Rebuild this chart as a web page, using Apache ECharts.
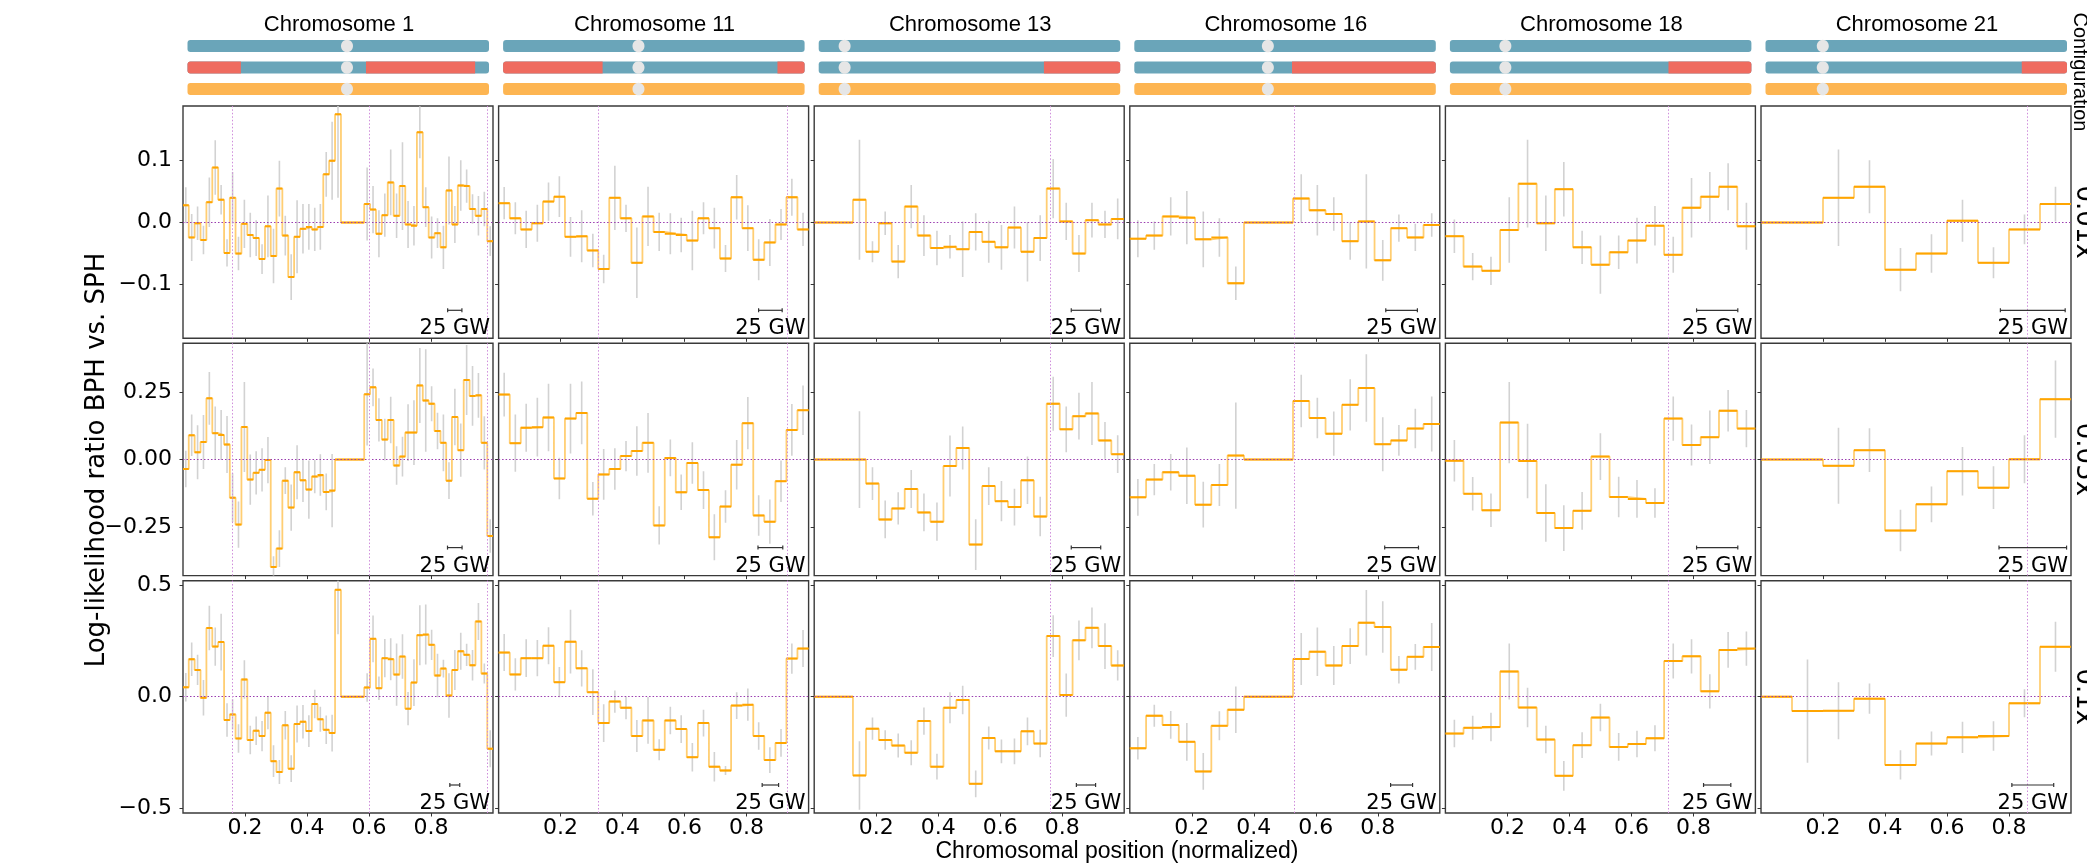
<!DOCTYPE html>
<html><head><meta charset="utf-8">
<script src="https://cdn.jsdelivr.net/npm/echarts@6/dist/echarts.min.js"></script>
<style>html,body{margin:0;padding:0;background:#fff;overflow:hidden}#c{width:2087px;height:866px}</style>
</head><body><div id="c"></div><script>
// ---------------- DATA ----------------
const chromosomes = ['Chromosome 1','Chromosome 11','Chromosome 13','Chromosome 16','Chromosome 18','Chromosome 21'];
const coverages = ['0.01x','0.05x','0.1x'];
const xTicks = [0.2,0.4,0.6,0.8];
const yTickValues = [[-0.1,0,0.1],[-0.25,0,0.25],[-0.5,0,0.5]];
const yTickLabels = [['\u22120.1','0.0','0.1'],['\u22120.25','0.00','0.25'],['\u22120.5','0.0','0.5']];
const yRanges = [[-0.187,0.1885],[-0.43,0.431],[-0.523,0.521]];

// ideogram configuration (fractions of chromosome length)
const centromeres = [0.529,0.449,0.086,0.443,0.184,0.19];
const redSegments = [[[0,0.177],[0.592,0.954]],[[0,0.33],[0.91,1]],[[0.747,1]],[[0.523,1]],[[0.725,1]],[[0.85,1]]];
// breakpoints (dotted vertical lines)
const breakpoints = [[0.159,0.601,0.976],[0.324,0.932],[0.756],[0.526],[0.72],[0.865]];
// 25 GW scale bar length, per chromosome, per coverage
const scaleBars = [[0.046,0.047,0.032],[0.076,0.080,0.053],[0.095,0.095,0.062],[0.102,0.109,0.071],[0.133,0.133,0.088],[0.209,0.218,0.135]];

// bin centres (normalized position)
const pos_chr1 = [0.009,0.028,0.047,0.066,0.085,0.104,0.123,0.142,0.160,0.179,0.198,0.217,0.236,0.255,0.274,0.292,0.311,0.330,0.349,0.368,0.387,0.406,0.425,0.443,0.462,0.481,0.500,0.519,0.538,0.557,0.575,0.594,0.613,0.632,0.651,0.670,0.689,0.708,0.726,0.745,0.764,0.783,0.802,0.821,0.840,0.858,0.877,0.896,0.915,0.934,0.953,0.972,0.991];
const pos_chr11 = [0.018,0.054,0.089,0.125,0.161,0.196,0.232,0.268,0.304,0.339,0.375,0.411,0.446,0.482,0.518,0.554,0.589,0.625,0.661,0.696,0.732,0.768,0.804,0.839,0.875,0.911,0.946,0.982];
const pos_chr13 = [0.021,0.063,0.104,0.146,0.188,0.229,0.271,0.313,0.354,0.396,0.438,0.479,0.521,0.563,0.604,0.646,0.688,0.729,0.771,0.813,0.854,0.896,0.938,0.979];
const pos_chr16 = [0.026,0.079,0.132,0.184,0.237,0.289,0.342,0.395,0.447,0.500,0.553,0.605,0.658,0.711,0.763,0.816,0.868,0.921,0.974];
const pos_chr18 = [0.029,0.088,0.147,0.206,0.265,0.324,0.382,0.441,0.500,0.559,0.618,0.676,0.735,0.794,0.853,0.912,0.971];
const pos_chr21 = [0.05,0.15,0.25,0.35,0.45,0.55,0.65,0.75,0.85,0.95];

// log-likelihood ratios and error half-widths
const llr_chr1_001 = [0.028,-0.024,-0.001,-0.028,0.033,0.089,0.037,-0.049,0.040,-0.050,-0.002,-0.020,-0.025,-0.059,-0.006,-0.054,0.055,-0.021,-0.088,-0.023,-0.010,-0.007,-0.011,-0.007,0.078,0.100,0.175,0,0,0,0,0.030,0.021,-0.018,0.012,0.065,0.011,0.059,-0.003,-0.005,0.146,0.025,-0.024,-0.017,-0.040,0.052,-0.003,0.060,0.059,0.022,0.011,0.022,-0.030];
const err_chr1_001 = [0.029,0.038,0.027,0.023,0.040,0.044,0.024,0.022,0.042,0.027,0.039,0.036,0.029,0.024,0.050,0.044,0.045,0.032,0.037,0.059,0.040,0.037,0.035,0.037,0.036,0.063,0.135,null,null,null,null,0.059,0.038,0.038,0.035,0.053,0.036,0.071,0.038,0.032,0.042,0.032,0.034,0.024,0.035,0.055,0.030,0.041,0.027,0.024,0.032,0.028,0.024];
const llr_chr1_005 = [-0.035,0.090,0.027,0.065,0.227,0.098,0.091,0.056,-0.141,-0.241,0.121,-0.074,-0.049,-0.038,-0.002,-0.398,-0.330,-0.078,-0.178,-0.047,-0.077,-0.111,-0.063,-0.057,-0.120,-0.115,0,0,0,0,0,0.242,0.268,0.147,0.074,0.147,-0.022,0.011,0.100,0.100,0.275,0.219,0.207,0.106,0.062,-0.078,0.158,0.035,0.295,0.236,0.238,0.062,-0.283];
const err_chr1_005 = [0.068,0.077,0.1,0.1,0.098,0.099,0.093,0.106,0.09,0.086,0.167,0.093,0.08,0.08,0.086,0.04,0.068,0.05,0.086,0.1,0.08,0.108,0.062,0.077,0.068,0.136,null,null,null,null,null,0.19,0.07,0.08,0.077,0.086,0.071,0.074,0.105,0.12,0.139,0.19,0.065,0.068,0.105,0.068,0.105,0.099,0.13,0.111,0.083,0.099,0.062];
const llr_chr1_01 = [0.042,0.168,0.120,-0.005,0.308,0.225,0.245,-0.105,-0.080,-0.188,0.077,-0.195,-0.153,-0.177,-0.072,-0.290,-0.339,-0.129,-0.324,-0.123,-0.113,-0.155,-0.033,-0.102,-0.149,-0.164,0.480,0,0,0,0,0.041,0.260,0.038,0.173,0.168,0.099,0.180,-0.054,0.063,0.276,0.279,0.233,0.095,0.126,0.005,0.120,0.204,0.188,0.141,0.338,0.104,-0.234];
const err_chr1_01 = [0.064,0.075,0.068,0.08,0.1,0.086,0.128,0.075,0.068,0.064,0.086,0.064,0.064,0.068,0.075,0.071,0.054,0.064,0.06,0.083,0.075,0.071,0.064,0.056,0.064,0.083,0.2,null,null,null,null,0.064,0.105,0.053,0.086,0.094,0.14,0.1,0.075,0.105,0.135,0.135,0.068,0.098,0.04,0.1,0.09,0.083,0.05,0.068,0.083,0.045,0.083];

const llr_chr11_001 = [0.0315,0.007,-0.011,-0.001,0.034,0.042,-0.023,-0.022,-0.045,-0.075,0.040,0.007,-0.065,0.010,-0.015,-0.018,-0.020,-0.029,0.007,-0.009,-0.058,0.041,-0.009,-0.060,-0.032,-0.003,0.041,-0.011];
const err_chr11_001 = [0.026,0.026,0.030,0.030,0.031,0.033,0.032,0.042,0.027,0.023,0.052,0.022,0.057,0.048,0.031,0.033,0.028,0.048,0.026,0.033,0.022,0.036,0.037,0.033,0.038,0.025,0.030,0.027];
const llr_chr11_005 = [0.241,0.061,0.118,0.120,0.156,-0.070,0.152,0.173,-0.145,-0.055,-0.035,0.013,0.032,0.062,-0.244,0.006,-0.121,-0.013,-0.113,-0.288,-0.174,-0.019,0.135,-0.207,-0.230,-0.080,0.110,0.183];
const err_chr11_005 = [0.081,0.106,0.089,0.109,0.125,0.077,0.129,0.116,0.062,0.094,0.077,0.056,0.092,0.111,0.071,0.068,0.066,0.077,0.07,0.085,0.06,0.092,0.097,0.075,0.082,0.077,0.096,0.092];
const llr_chr11_01 = [0.198,0.100,0.173,0.173,0.229,0.065,0.247,0.127,0.020,-0.119,-0.022,-0.050,-0.177,-0.107,-0.239,-0.107,-0.146,-0.272,-0.119,-0.315,-0.332,-0.040,-0.036,-0.177,-0.285,-0.208,0.171,0.216];
const err_chr11_01 = [0.083,0.072,0.085,0.081,0.083,0.068,0.143,0.081,0.103,0.085,0.05,0.052,0.072,0.105,0.047,0.062,0.062,0.064,0.06,0.066,0.02,0.06,0.072,0.062,0.058,0.062,0.068,0.083];

const llr_chr13_001 = [0,0,0,0.037,-0.047,-0.001,-0.063,0.026,-0.021,-0.041,-0.039,-0.043,-0.015,-0.031,-0.040,-0.008,-0.047,-0.025,0.055,0.002,-0.050,0.004,-0.003,0.006];
const err_chr13_001 = [null,null,null,0.097,0.017,0.019,0.027,0.035,0.033,0.028,0.019,0.045,0.03,0.034,0.036,0.034,0.048,0.037,0.048,0.03,0.03,0.028,0.022,0.033];
const llr_chr13_005 = [0,0,0,0.0,-0.089,-0.222,-0.181,-0.109,-0.196,-0.230,-0.024,0.043,-0.315,-0.098,-0.154,-0.176,-0.077,-0.211,0.207,0.112,0.161,0.171,0.071,0.020];
const err_chr13_005 = [null,null,null,0.179,0.061,0.07,0.06,0.07,0.07,0.071,0.113,0.08,0.094,0.07,0.075,0.068,0.088,0.073,0.1,0.085,0.087,0.117,0.068,0.07];
const llr_chr13_01 = [0,0,0,-0.354,-0.144,-0.195,-0.220,-0.252,-0.110,-0.315,-0.050,-0.015,-0.392,-0.186,-0.246,-0.246,-0.156,-0.211,0.272,0.007,0.253,0.309,0.227,0.140];
const err_chr13_01 = [null,null,null,0.154,0.05,0.044,0.054,0.056,0.061,0.058,0.07,0.064,0.06,0.052,0.053,0.058,0.062,0.062,0.094,0.097,0.089,0.092,0.103,0.068];

const llr_chr16_001 = [-0.026,-0.021,0.010,0.008,-0.027,-0.024,-0.098,0,0,0,0.039,0.020,0.014,-0.030,0.002,-0.061,-0.009,-0.024,-0.004];
const err_chr16_001 = [0.03,0.023,0.031,0.043,0.045,0.031,0.027,null,null,null,0.039,0.041,0.027,0.03,0.076,0.033,0.022,0.022,0.019];
const llr_chr16_005 = [-0.140,-0.074,-0.047,-0.060,-0.167,-0.094,0.015,0,0,0,0.217,0.154,0.096,0.203,0.265,0.057,0.071,0.115,0.132];
const err_chr16_005 = [0.068,0.058,0.068,0.105,0.085,0.078,0.197,null,null,null,0.097,0.075,0.082,0.095,0.125,0.1,0.057,0.073,0.102];
const llr_chr16_01 = [-0.232,-0.086,-0.127,-0.203,-0.336,-0.131,-0.059,0,0,0,0.169,0.202,0.140,0.227,0.332,0.313,0.121,0.179,0.223];
const err_chr16_01 = [0.05,0.049,0.062,0.085,0.083,0.065,0.105,null,null,null,0.117,0.109,0.088,0.08,0.147,0.116,0.062,0.058,0.108];

const llr_chr18_001 = [-0.022,-0.071,-0.078,-0.012,0.063,-0.001,0.054,-0.040,-0.068,-0.048,-0.029,-0.005,-0.052,0.024,0.042,0.058,-0.006];
const err_chr18_001 = [0.027,0.022,0.023,0.053,0.071,0.045,0.044,0.027,0.047,0.027,0.037,0.032,0.029,0.048,0.04,0.038,0.038];
const llr_chr18_005 = [-0.004,-0.127,-0.188,0.137,-0.005,-0.198,-0.254,-0.190,0.011,-0.139,-0.146,-0.161,0.152,0.054,0.083,0.181,0.115];
const err_chr18_005 = [0.077,0.062,0.062,0.151,0.138,0.107,0.085,0.07,0.087,0.075,0.07,0.055,0.082,0.076,0.099,0.077,0.069];
const llr_chr18_01 = [-0.166,-0.140,-0.137,0.113,-0.049,-0.193,-0.356,-0.218,-0.094,-0.226,-0.213,-0.187,0.160,0.181,0.024,0.210,0.216];
const err_chr18_01 = [0.062,0.054,0.064,0.126,0.089,0.062,0.067,0.058,0.062,0.062,0.06,0.058,0.079,0.077,0.077,0.08,0.077];

const llr_chr21_001 = [0,0,0.040,0.058,-0.076,-0.050,0.003,-0.065,-0.011,0.030];
const err_chr21_001 = [null,null,0.078,0.043,0.035,0.031,0.034,0.025,0.024,0.028];
const llr_chr21_005 = [0,0,-0.023,0.035,-0.263,-0.166,-0.043,-0.104,0.001,0.224];
const err_chr21_005 = [null,null,0.141,0.081,0.077,0.066,0.09,0.079,0.089,0.143];
const llr_chr21_01 = [0,-0.065,-0.063,-0.009,-0.307,-0.211,-0.183,-0.177,-0.030,0.224];
const err_chr21_01 = [null,0.232,0.128,0.068,0.066,0.054,0.07,0.066,0.063,0.112];

// ---------------- ASSEMBLY ----------------
const positions = [pos_chr1,pos_chr11,pos_chr13,pos_chr16,pos_chr18,pos_chr21];
const llr = [
  [llr_chr1_001,llr_chr11_001,llr_chr13_001,llr_chr16_001,llr_chr18_001,llr_chr21_001],
  [llr_chr1_005,llr_chr11_005,llr_chr13_005,llr_chr16_005,llr_chr18_005,llr_chr21_005],
  [llr_chr1_01,llr_chr11_01,llr_chr13_01,llr_chr16_01,llr_chr18_01,llr_chr21_01]];
const errs = [
  [err_chr1_001,err_chr11_001,err_chr13_001,err_chr16_001,err_chr18_001,err_chr21_001],
  [err_chr1_005,err_chr11_005,err_chr13_005,err_chr16_005,err_chr18_005,err_chr21_005],
  [err_chr1_01,err_chr11_01,err_chr13_01,err_chr16_01,err_chr18_01,err_chr21_01]];

const GRID_LEFT0 = 183, GRID_W = 310, GRID_GAP = 5.6;
const ROW_TOPS = [106, 343.3, 580.7], GRID_H = 232.3;
const colLeft = c => GRID_LEFT0 + c * (GRID_W + GRID_GAP);
const BLUE = '#6aa5b9', RED = '#ef6b5f', ORANGE = '#fdb552', CENT = '#e6e6e6';
const TICK_FONT = 'DejaVu Sans';
const GW_FONT = '21px "DejaVu Sans"';

const mctx = document.createElement('canvas').getContext('2d');
function textWidth(t, font){ mctx.font = font; return mctx.measureText(t).width; }

function edgesOf(c){
  const n = c.length, e = [Math.max(0, c[0] - (c[1]-c[0])/2)];
  for (let i = 1; i < n; i++) e.push((c[i-1] + c[i]) / 2);
  e.push(Math.min(1, c[n-1] + (c[n-1]-c[n-2])/2));
  return e;
}

const grids = [], xAxes = [], yAxes = [], series = [];

function renderErr(params, api){
  const x = api.value(0);
  const p1 = api.coord([x, api.value(1)]), p2 = api.coord([x, api.value(2)]);
  return {type:'line', shape:{x1:p1[0], y1:p1[1], x2:p2[0], y2:p2[1]}, style:{stroke:'#d2d2d2', lineWidth:1.6}};
}
function renderSeg(params, api){
  const a = api.coord([api.value(0), api.value(2)]), b = api.coord([api.value(1), api.value(2)]);
  return {type:'line', shape:{x1:a[0], y1:a[1], x2:b[0], y2:b[1]}, style:{stroke:'#ffa500', lineWidth:2}};
}
function renderScale(params, api){
  const cs = params.coordSys;
  const right = cs.x + cs.width - 3;
  const tw = textWidth('25 GW', GW_FONT);
  const cx = right - tw / 2;
  const len = api.size([api.value(0), 0])[0];
  const yb = cs.y + cs.height - 28;
  const st = {stroke:'#333', lineWidth:1.2};
  return {type:'group', children:[
    {type:'line', shape:{x1:cx-len/2, y1:yb, x2:cx+len/2, y2:yb}, style:st},
    {type:'line', shape:{x1:cx-len/2, y1:yb-2, x2:cx-len/2, y2:yb+2}, style:st},
    {type:'line', shape:{x1:cx+len/2, y1:yb-2, x2:cx+len/2, y2:yb+2}, style:st},
    {type:'text', x:right, y:cs.y + cs.height + 1, style:{text:'25 GW', font:GW_FONT, fill:'#000', align:'right', verticalAlign:'bottom'}}
  ]};
}

for (let r = 0; r < 3; r++) {
  for (let c = 0; c < 6; c++) {
    const gi = grids.length;
    grids.push({left: colLeft(c), top: ROW_TOPS[r], width: GRID_W, height: GRID_H,
      show: true, borderColor: '#3a3a3a', borderWidth: 1.4, backgroundColor: 'transparent',
      containLabel: false, outerBoundsMode: 'none'});
    xAxes.push({gridIndex: gi, type: 'value', min: 0, max: 1,
      axisLine: {show: false, onZero: false}, splitLine: {show: false},
      axisTick: {show: true, customValues: xTicks, length: 3.5, lineStyle: {color: '#333', width: 1}},
      axisLabel: {show: r === 2, customValues: xTicks, formatter: v => v.toFixed(1),
        fontFamily: TICK_FONT, fontSize: 22, color: '#000', margin: 4}});
    const yv = yTickValues[r], yl = yTickLabels[r];
    yAxes.push({gridIndex: gi, type: 'value', min: yRanges[r][0], max: yRanges[r][1],
      axisLine: {show: false, onZero: false}, splitLine: {show: false},
      axisTick: {show: true, customValues: yv, length: 3.5, lineStyle: {color: '#333', width: 1}},
      axisLabel: {show: c === 0, customValues: yv,
        formatter: v => { const i = yv.findIndex(t => Math.abs(t - v) < 1e-9); return i >= 0 ? yl[i] : ''; },
        fontFamily: TICK_FONT, fontSize: 22, color: '#000', margin: 11}});

    const pos = positions[c], vals = llr[r][c], er = errs[r][c];
    const edges = edgesOf(pos);

    // reference lines
    series.push({type: 'line', xAxisIndex: gi, yAxisIndex: gi, data: [[0, 0]], showSymbol: false,
      lineStyle: {opacity: 0}, z: 1, silent: true,
      markLine: {silent: true, symbol: 'none', animation: false, label: {show: false},
        emphasis: {disabled: true},
        data: [{yAxis: 0, lineStyle: {color: '#9a3cb0', type: [1.5, 2], width: 1.1}}]
          .concat(breakpoints[c].map(b => ({xAxis: b, lineStyle: {color: '#cf8ddb', type: [1.5, 2], width: 1}})))}});
    // error bars
    const errData = [];
    pos.forEach((x, i) => { if (er[i] != null) errData.push([x, vals[i] - er[i], vals[i] + er[i]]); });
    series.push({type: 'custom', xAxisIndex: gi, yAxisIndex: gi, data: errData, renderItem: renderErr,
      encode: {x: 0, y: [1, 2]}, clip: true, z: 2, silent: true});
    // step line (vertical connectors lighter)
    const stepData = vals.map((v, i) => [edges[i], v]);
    stepData.push([edges[vals.length], vals[vals.length - 1]]);
    series.push({type: 'line', xAxisIndex: gi, yAxisIndex: gi, data: stepData, step: 'end',
      showSymbol: false, lineStyle: {color: 'rgba(255,165,0,0.55)', width: 1.8}, z: 3, silent: true, clip: true});
    // horizontal bin segments
    series.push({type: 'custom', xAxisIndex: gi, yAxisIndex: gi,
      data: vals.map((v, i) => [edges[i], edges[i + 1], v]), renderItem: renderSeg,
      encode: {x: [0, 1], y: 2}, clip: true, z: 4, silent: true});
    // scale bar
    series.push({type: 'custom', xAxisIndex: gi, yAxisIndex: gi, data: [[scaleBars[c][r], 0]],
      renderItem: renderScale, encode: {x: 0, y: 1}, clip: false, z: 5, silent: true});
  }
}

// ideograms
function ideoRender(ci){
  return function(params, api){
    const row = api.value(1);
    const a = api.coord([0, row]), b = api.coord([1, row]);
    const h = 12, y = a[1] - h / 2;
    const children = [{type: 'rect', shape: {x: a[0], y: y, width: b[0] - a[0], height: h, r: 3},
      style: {fill: row === 2 ? ORANGE : BLUE}}];
    if (row === 1) {
      redSegments[ci].forEach(([s, e]) => {
        const xs = api.coord([s, row])[0], xe = api.coord([e, row])[0];
        const rr = [s === 0 ? 3 : 0, e === 1 ? 3 : 0, e === 1 ? 3 : 0, s === 0 ? 3 : 0];
        children.push({type: 'rect', shape: {x: xs, y: y, width: xe - xs, height: h, r: rr}, style: {fill: RED}});
      });
    }
    const xc = api.coord([centromeres[ci], row])[0];
    children.push({type: 'ellipse', shape: {cx: xc, cy: a[1], rx: 6, ry: 6.3}, style: {fill: CENT}});
    return {type: 'group', children};
  };
}
for (let c = 0; c < 6; c++) {
  const gi = grids.length;
  grids.push({left: colLeft(c) + 4.5, top: 35.25, width: GRID_W - 8.5, height: 64.5, show: false,
    containLabel: false, outerBoundsMode: 'none'});
  xAxes.push({gridIndex: gi, type: 'value', min: 0, max: 1, show: false});
  yAxes.push({gridIndex: gi, type: 'category', data: ['ref', 'cfg', 'alt'], inverse: true, show: false});
  series.push({type: 'custom', xAxisIndex: gi, yAxisIndex: gi, data: [[0, 0], [0, 1], [0, 2]],
    renderItem: ideoRender(c), encode: {x: 0, y: 1}, clip: false, silent: true});
}

// texts
const graphics = [];
chromosomes.forEach((name, c) => graphics.push({type: 'text', x: colLeft(c) + GRID_W / 2 + 1, y: 25,
  style: {text: name, font: '22px "Liberation Sans"', fill: '#000', align: 'center', verticalAlign: 'middle',
    textAlign: 'center', textVerticalAlign: 'middle'}}));
coverages.forEach((cv, r) => graphics.push({type: 'text', x: 2084, y: ROW_TOPS[r] + GRID_H / 2, rotation: -Math.PI / 2,
  style: {text: cv, font: '26px "DejaVu Sans"', fill: '#000', align: 'center', verticalAlign: 'middle',
    textAlign: 'center', textVerticalAlign: 'middle'}}));
graphics.push({type: 'text', x: 2080, y: 72, rotation: -Math.PI / 2,
  style: {text: 'Configuration', font: '20px "Liberation Sans"', fill: '#000', align: 'center', verticalAlign: 'middle',
    textAlign: 'center', textVerticalAlign: 'middle'}});
graphics.push({type: 'text', x: 97, y: 460, rotation: Math.PI / 2,
  style: {text: 'Log-likelihood ratio BPH vs. SPH', font: '26px "DejaVu Sans"', fill: '#000', align: 'center',
    verticalAlign: 'middle', textAlign: 'center', textVerticalAlign: 'middle'}});
graphics.push({type: 'text', x: 1117, y: 852,
  style: {text: 'Chromosomal position (normalized)', font: '23px "Liberation Sans"', fill: '#000', align: 'center',
    verticalAlign: 'middle', textAlign: 'center', textVerticalAlign: 'middle'}});

const chart = echarts.init(document.getElementById('c'), null, {renderer: 'canvas', width: 2087, height: 866});
chart.setOption({
  animation: false,
  backgroundColor: '#ffffff',
  grid: grids, xAxis: xAxes, yAxis: yAxes, series: series,
  graphic: {elements: graphics}
});
</script></body></html>
